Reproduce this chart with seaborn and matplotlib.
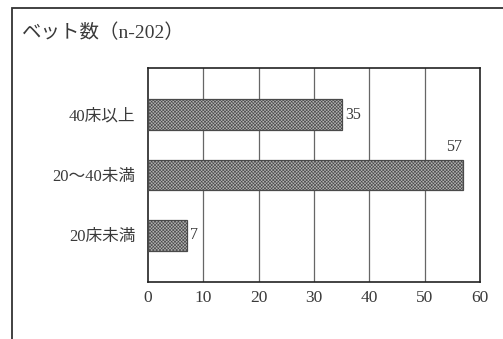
import matplotlib
matplotlib.use("Agg")
import matplotlib.pyplot as plt
import seaborn as sns
import pandas as pd
from matplotlib.patches import Rectangle

categories = ["40床以上", "20～40未満", "20床未満"]
counts = [35, 57, 7]
x_ticks = [0, 10, 20, 30, 40, 50, 60]
title = "ベット数（n-202）"

sns.set_theme(style="white")
fonts = ["Liberation Serif", "Noto Sans CJK JP", "DejaVu Sans"]
plt.rcParams["font.family"] = fonts
plt.rcParams["hatch.color"] = "#6e6e6e"
plt.rcParams["hatch.linewidth"] = 0.45

W, H = 503, 339
fig = plt.figure(figsize=(W / 100, H / 100), dpi=100)
fig.patch.set_facecolor("white")

# axes box in pixel units
left, right, top, bottom = 148, 480, 68, 282
ax = fig.add_axes([left / W, 1 - bottom / H, (right - left) / W, (bottom - top) / H])

df = pd.DataFrame({"cat": categories, "n": counts})
sns.barplot(data=df, y="cat", x="n", order=categories, orient="h",
            color="#b2b2b2", width=0.51, ax=ax, zorder=3)
for bar in ax.patches:
    bar.set_hatch("xxxxxxxxxx")
    bar.set_edgecolor("#4a4a4a")
    bar.set_linewidth(0.9)

text_color = "#3a3a3a"
ax.set_xlim(0, 60)
ax.set_ylim(2.77, -0.77)
ax.set_xticks(x_ticks)
ax.set_xticklabels([str(t) for t in x_ticks], fontsize=12.5, color=text_color)
ax.tick_params(axis="x", length=0, pad=6)
ax.tick_params(axis="y", length=0, pad=9, labelsize=12, labelcolor=text_color)
ax.set_xlabel("")
ax.set_ylabel("")
for s in ax.spines.values():
    s.set_color("#222222")
    s.set_linewidth(1.2)
ax.grid(False)
for t in x_ticks[1:-1]:
    ax.axvline(t, color="#666666", linewidth=0.9, zorder=1)

# value labels
for i, v in enumerate(counts):
    if v == max(counts):
        ax.text(v - 0.3, i - 0.33, str(v), ha="right", va="bottom",
                fontsize=11.5, color=text_color)
    else:
        ax.text(v + 0.6, i, str(v), ha="left", va="center",
                fontsize=11.5, color=text_color)

# outer frame running off the right and bottom edges
fig.patches.append(Rectangle((12 / W, -0.1), 1.2, 1 - 8 / H + 0.1,
                             transform=fig.transFigure, fill=False,
                             edgecolor="#333333", linewidth=1.3))
fig.text(22 / W, 1 - 33 / H, title, ha="left", va="center",
         fontsize=14, color=text_color)

fig.savefig("out.png", dpi=100)
